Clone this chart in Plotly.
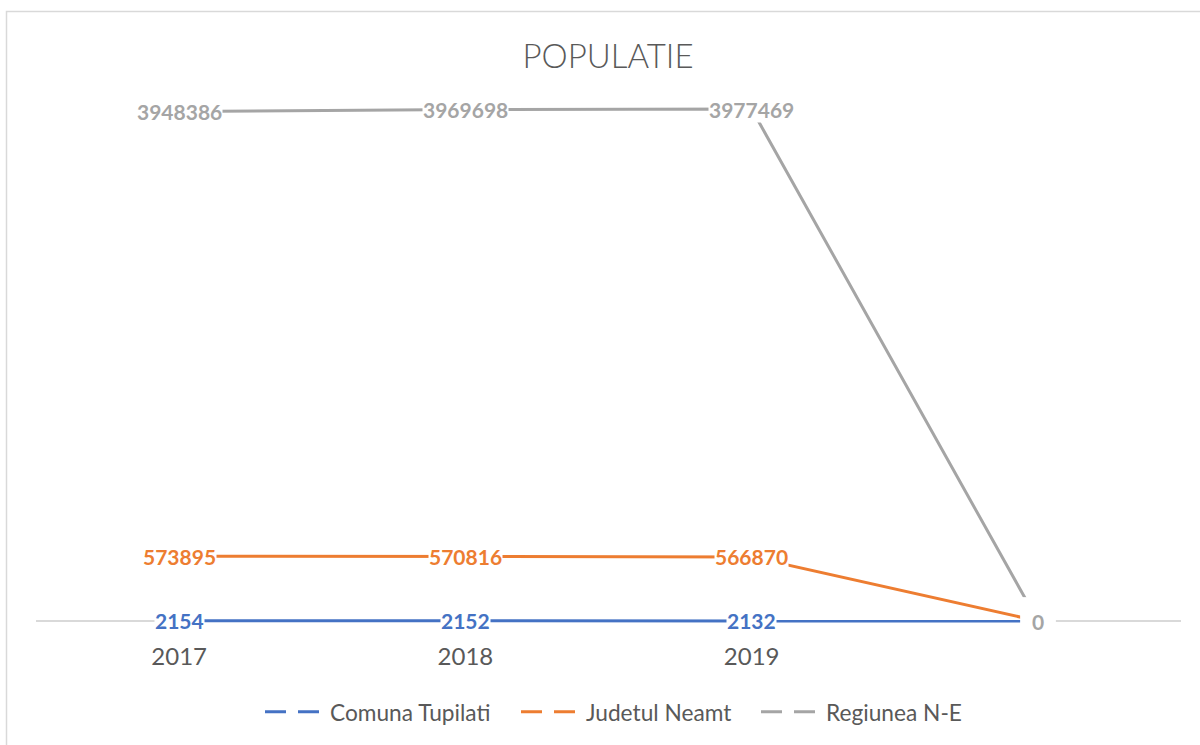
import numpy as np
import plotly.graph_objects as go

categories = ["2017", "2018", "2019", ""]
comuna_tupilati = [2154, 2152, 2132, 0]
judetul_neamt = [573895, 570816, 566870, 0]
regiunea_ne = [3948386, 3969698, 3977469, 0]

series_names = ["Comuna Tupilati", "Judetul Neamt", "Regiunea N-E"]
series_values = [comuna_tupilati, judetul_neamt, regiunea_ne]
colors = ["#4472C4", "#ED7D31", "#A5A5A5"]

x = list(range(len(categories)))
stacked = np.cumsum(np.array(series_values, dtype=float), axis=0)

W, H = 1200, 745
L, R, T, B = 36, 19, 58, 114

fig = go.Figure()

for name, vals, ys, col in zip(series_names, series_values, stacked, colors):
    fig.add_trace(go.Scatter(
        x=x, y=ys, mode="lines", name=name, showlegend=False,
        line=dict(color=col, width=3), hoverinfo="skip"))

# legend-only entries (dashed icon as in the original legend), one legend each
legend_ids = ["legend", "legend2", "legend3"]
legend_text_x = [330, 586, 826]
for name, col, lid in zip(series_names, colors, legend_ids):
    fig.add_trace(go.Scatter(
        x=[None], y=[None], mode="lines", name=name, showlegend=True,
        legend=lid, line=dict(color=col, width=3, dash="21px,12px")))

annotations = []
for vals, ys, col in zip(series_values, stacked, colors):
    for xi, v, yv in zip(x, vals, ys):
        annotations.append(dict(
            x=xi, y=yv, xref="x", yref="y", text=str(v), showarrow=False,
            font=dict(family="Lato", size=21, color=col, weight="bold"),
            bgcolor="white", borderpad=(11 if v == 0 else 0),
            xanchor="center", yanchor="middle"))

plot_w = W - L - R
plot_h = H - T - B
shapes = [dict(
    type="rect", xref="paper", yref="paper",
    x0=(6.5 - L) / plot_w, x1=(W + 10 - L) / plot_w,
    y0=(H - B - (H + 10)) / plot_h, y1=(H - B - 11.5) / plot_h,
    line=dict(color="#D9D9D9", width=1.5), fillcolor="rgba(0,0,0,0)", layer="below")]

legend_style = dict(orientation="h", xanchor="left", xref="container",
                    y=1 - 712 / H, yanchor="middle", yref="container",
                    itemwidth=60, bgcolor="rgba(0,0,0,0)",
                    font=dict(family="Lato", size=22.7, color="#595959"))
legends = {lid: dict(legend_style, x=(tx - 70) / W)
           for lid, tx in zip(legend_ids, legend_text_x)}

fig.update_layout(
    width=W, height=H, autosize=False,
    margin=dict(l=L, r=R, t=T, b=B, pad=0),
    paper_bgcolor="white", plot_bgcolor="white",
    title=dict(text="POPULATIE", x=608 / W, xanchor="center", xref="container",
               y=1 - 56 / H, yanchor="middle", yref="container",
               font=dict(family="Lato", size=33, color="#595959", weight=300)),
    xaxis=dict(range=[-0.5, len(categories) - 0.5], tickmode="array",
               tickvals=x, ticktext=categories, showgrid=False, showline=False,
               zeroline=False, ticks="", fixedrange=True, ticklabelstandoff=9,
               tickfont=dict(family="Lato", size=24, color="#595959")),
    yaxis=dict(range=[-88800, 5.0e6], showgrid=False, showticklabels=False,
               ticks="", showline=False, zeroline=True, zerolinecolor="#D9D9D9",
               zerolinewidth=1.5, fixedrange=True),
    annotations=annotations,
    shapes=shapes,
    showlegend=True,
    **legends,
)

fig.write_html("out.html", post_script="document.body.style.margin='0px';",
               config={"displayModeBar": False})
